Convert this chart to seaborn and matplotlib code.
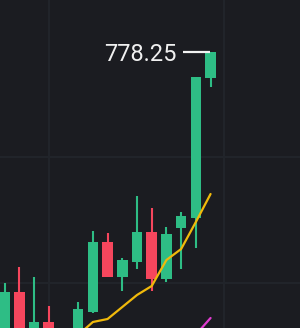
import numpy as np
import pandas as pd
import matplotlib
matplotlib.use("Agg")
import matplotlib.pyplot as plt
import seaborn as sns

# ---- data ----
opens  = [705.0, 718.25, 706.25, 710.75, 705.0, 707.5, 713.25, 730.75, 722.0, 725.75, 733.25, 721.5, 734.25, 736.75, 771.75]
highs  = [720.5, 724.5, 722.0, 714.75, 708.25, 715.75, 733.5, 733.0, 726.75, 742.25, 739.25, 734.5, 738.25, 772.0, 778.25]
lows   = [701.25, 701.25, 703.75, 705.0, 703.75, 706.25, 713.0, 722.0, 718.5, 724.0, 718.5, 720.75, 724.0, 729.25, 769.5]
closes = [718.25, 703.75, 710.75, 706.75, 707.25, 714.0, 730.75, 722.0, 726.25, 733.25, 721.5, 732.75, 737.25, 772.0, 778.25]
ma_fast = [np.nan]*5 + [707.5, 710.75, 711.5, 714.5, 717.5, 719.75, 726.25, 729.0, 735.75, 742.75]
ma_slow = [np.nan]*13 + [707.6, 711.75]
last_label = "778.25"
grid_prices = [752.0, 720.5]
grid_times = [3.02, 14.92]

df = pd.DataFrame({"i": np.arange(len(opens)), "open": opens, "high": highs,
                   "low": lows, "close": closes, "ma7": ma_fast, "ma25": ma_slow})

BG = "#1b1c21"
GREEN = "#2ebd85"
RED = "#f6465d"
YELLOW = "#f0b90b"
MAGENTA = "#e03cd0"
GRID = "#22252b"

sns.set_theme(style="dark", rc={"axes.facecolor": BG, "figure.facecolor": BG})
plt.rcParams["font.family"] = ["Roboto", "DejaVu Sans"]

fig = plt.figure(figsize=(3.0, 3.28), dpi=100)
ax = fig.add_axes([0, 0, 1, 1])
ax.set_facecolor(BG)

for x in grid_times:
    ax.axvline(x, color=GRID, lw=1.4, zorder=0)
for y in grid_prices:
    ax.axhline(y, color=GRID, lw=1.4, zorder=0)

up = df["close"] >= df["open"]
colors = np.where(up, GREEN, RED)
ax.vlines(df["i"], df["low"], df["high"], colors=colors, lw=1.5, zorder=2)
body_lo = np.minimum(df["open"], df["close"])
body_h = np.abs(df["close"] - df["open"])
ax.bar(df["i"], body_h, bottom=body_lo, width=0.72, color=colors, linewidth=0, zorder=3)

sns.lineplot(data=df, x="i", y="ma7", color=YELLOW, lw=1.6, ax=ax, zorder=4)
sns.lineplot(data=df, x="i", y="ma25", color=MAGENTA, lw=1.6, ax=ax, zorder=4)

last_i = df["i"].iloc[-1]
last_c = df["close"].iloc[-1]
ax.hlines(last_c, last_i - 1.87, last_i - 0.04, color="#f2f2f2", lw=1.6, zorder=5)
ax.text(last_i - 2.33, last_c, last_label, color="#f0f0f0", fontsize=17, ha="right",
        va="center_baseline", zorder=5)

ax.set_xlim(-0.313, 20.08)
ax.set_ylim(709.25, 791.25)
ax.set_xticks([]); ax.set_yticks([])
ax.set_xlabel(""); ax.set_ylabel("")
for s in ax.spines.values():
    s.set_visible(False)

fig.savefig("out.png", dpi=100, facecolor=BG)
